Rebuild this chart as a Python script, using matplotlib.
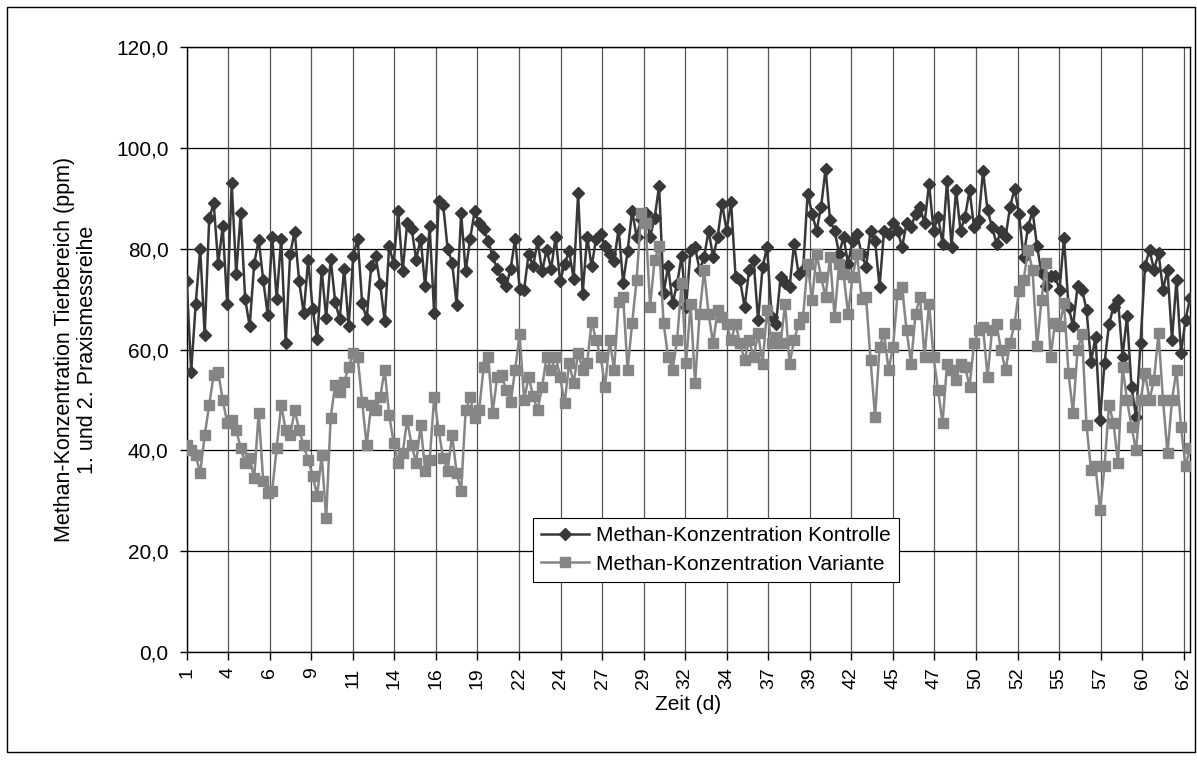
import matplotlib
matplotlib.use("Agg")
import matplotlib.pyplot as plt
from matplotlib.patches import Rectangle

plt.rcParams['font.family'] = ['Liberation Sans', 'DejaVu Sans']

kontrolle = [73.6, 55.6, 69, 80, 62.8, 86, 89, 77, 84.4, 69, 93, 75, 87, 70, 64.6, 77,
             81.8, 73.8, 66.9, 82.4, 70, 82, 61.3, 79, 83.4, 73.5, 67.2, 77.8, 68, 62, 75.8, 66.2,
             78, 69.5, 66, 76, 64.6, 78.5, 82, 69.2, 66, 76.5, 78.5, 73, 65.6, 80.5, 77, 87.4,
             75.5, 85, 84, 77.8, 82, 72.5, 84.4, 67.2, 89.4, 88.7, 80, 77.2, 68.9, 87, 75.5, 82,
             87.4, 85, 84, 81.5, 78.5, 76, 74, 72.5, 76, 82, 72, 71.9, 79, 76.5, 81.5, 75.5,
             79.8, 76, 82.4, 73.5, 77, 79.5, 74, 91, 71, 82.4, 76.5, 82, 83, 80.5, 79, 77.5,
             84, 73.2, 79.5, 87.5, 82.4, 85.8, 87, 82.4, 86, 92.5, 71.2, 76.5, 69.2, 73, 78.5, 68.5,
             79.8, 80.3, 75.7, 78.3, 83.6, 78.3, 82.3, 88.9, 83.6, 89.2, 74.4, 73.7, 68.4, 75.7, 77.7, 65.8,
             76.4, 80.3, 66.5, 65.1, 74.4, 73.1, 72.4, 81, 75, 75.7, 90.9, 86.9, 83.6, 88.3, 95.8, 85.6,
             83.6, 79, 82.3, 77, 81.6, 83, 79, 76.4, 83.6, 81.6, 72.4, 83.6, 83, 85, 83.6, 80.3,
             85, 84.3, 86.9, 88.2, 85, 92.9, 83.6, 86.3, 81, 93.5, 80.3, 91.6, 83.6, 86.3, 91.6, 84.3,
             85.6, 95.5, 87.6, 84.3, 81, 83.6, 82.3, 88.2, 91.9, 86.9, 78.3, 84.3, 87.5, 80.5, 75.2, 72.5,
             74.5, 74.5, 71.9, 82.1, 68.5, 64.6, 72.5, 71.9, 67.9, 57.5, 62.5, 46, 57.3, 65, 68.5, 69.9,
             58.6, 66.6, 52.6, 46.7, 61.3, 76.5, 79.8, 75.8, 79.1, 71.9, 75.8, 61.9, 73.8, 59.3, 65.9, 70.2]

variante = [41, 40, 39, 35.5, 43, 49, 55, 55.5, 50, 45.5, 46, 44, 40.5, 37.5, 38.5, 34.5,
            47.5, 34, 31.5, 32, 40.5, 49, 44, 43, 48, 44, 41, 38, 35, 31, 39, 26.5,
            46.5, 53, 51.5, 53.5, 56.5, 59.3, 58.5, 49.5, 41, 49, 48, 50.5, 56, 47, 41.5, 37.5,
            39.5, 46, 41, 37.5, 45, 36, 38, 50.5, 44, 38.5, 36, 43, 35.5, 32, 48, 50.5,
            46.5, 48, 56.5, 58.5, 47.5, 54.5, 55, 52, 49.5, 56, 63, 50, 54.6, 50.7, 48, 52.6,
            58.6, 56, 58.6, 54.6, 49.3, 57.3, 53.3, 59.3, 56, 57.3, 65.5, 61.9, 58.6, 52.6, 61.9, 56,
            69.5, 70.5, 56, 65.2, 73.8, 87, 85, 68.5, 77.8, 80.5, 65.2, 58.6, 56, 61.9, 73.2, 57.3,
            69, 53.3, 67.1, 75.7, 67.1, 61.2, 67.8, 66.5, 65.1, 61.8, 65.1, 61.2, 57.9, 61.8, 58.5, 63.2,
            57.2, 67.8, 61.2, 62.5, 61.2, 69.1, 57.2, 61.8, 65.1, 66.5, 77, 69.8, 79, 74.4, 70.4, 78.3,
            66.5, 77, 75, 67.1, 74.4, 79, 70, 70.4, 57.9, 46.7, 60.5, 63.2, 55.9, 60.5, 71.1, 72.4,
            63.8, 57.2, 67.1, 70.4, 58.5, 69.1, 58.5, 52, 45.4, 57.2, 55.9, 53.9, 57.2, 56.6, 52.6, 61.2,
            63.8, 64.5, 54.6, 63.8, 65.1, 59.9, 55.9, 61.2, 65.1, 71.7, 73.7, 79.7, 75.8, 60.6, 69.9, 77.2,
            58.6, 65.2, 64.6, 69.2, 55.3, 47.4, 59.9, 63, 45, 36.1, 36.8, 28.2, 36.8, 49, 45.4, 37.4,
            56.6, 50, 44.7, 40, 50, 55.3, 50, 54, 63.2, 50, 39.4, 50, 56, 44.7, 36.8, 40.4]

tage = ['1', '4', '6', '9', '11', '14', '16', '19', '22', '24', '27', '29', '32',
        '34', '37', '39', '42', '45', '47', '50', '52', '55', '57', '60', '62']
y_werte = [0, 20, 40, 60, 80, 100, 120]

# Messwerte je Teilstrich der Kategorieachse
tick_step = 9.233

fig = plt.figure(figsize=(11.97, 7.6), dpi=100)
fig.patches.append(Rectangle((7 / 1197, 1 - 752 / 760), 1188 / 1197, 745 / 760,
                             transform=fig.transFigure, fill=False, ec='black', lw=1.0))
ax = fig.add_axes([186.7 / 1197, 108 / 760, (1190 - 186.7) / 1197, 605 / 760])

x = list(range(len(kontrolle)))
ax.plot(x, kontrolle, color='#383838', lw=1.8, marker='D', ms=6, mfc='#383838', mec='#383838',
        label='Methan-Konzentration Kontrolle', zorder=3)
ax.plot(x, variante, color='#858585', lw=1.8, marker='s', ms=6.5, mfc='#858585', mec='#858585',
        label='Methan-Konzentration Variante', zorder=4)

ax.set_xlim(0, len(kontrolle) - 1)
ax.set_ylim(0, 120)
ax.set_xticks([k * tick_step for k in range(len(tage))])
ax.set_xticklabels(tage, rotation=90, fontsize=14)
ax.set_yticks(y_werte)
ax.set_yticklabels([f'{v:.1f}'.replace('.', ',') for v in y_werte], fontsize=15)
ax.tick_params(axis='x', direction='out', length=6, width=1, pad=5)
ax.tick_params(axis='y', direction='out', length=5, width=1, pad=8)
ax.grid(axis='y', color='black', lw=0.9)
ax.grid(axis='x', color='#555555', lw=0.9)
ax.set_axisbelow(True)
for s in ax.spines.values():
    s.set_color('black')
    s.set_linewidth(1.0)

ax.set_xlabel('Zeit (d)', fontsize=15)
ax.xaxis.set_label_coords(0.5, (652 - 705) / 605)
ax.xaxis.label.set_va('center')
ax.set_ylabel('Methan-Konzentration Tierbereich (ppm)\n1. und 2. Praxismessreihe', fontsize=15.5,
              linespacing=1.15)
ax.yaxis.set_label_coords((76 - 186.7) / 1003.3, 0.5)
ax.yaxis.label.set_va('center')

leg = ax.legend(loc='upper left', bbox_to_anchor=((533 - 186.7) / 1003.3, (652 - 518) / 605),
                fontsize=15, frameon=True, fancybox=False, edgecolor='black', framealpha=1,
                borderpad=0.4, handlelength=2.3, labelspacing=0.45, handletextpad=0.3, borderaxespad=0)
leg.get_frame().set_linewidth(0.8)

fig.savefig('out.png', dpi=100)
